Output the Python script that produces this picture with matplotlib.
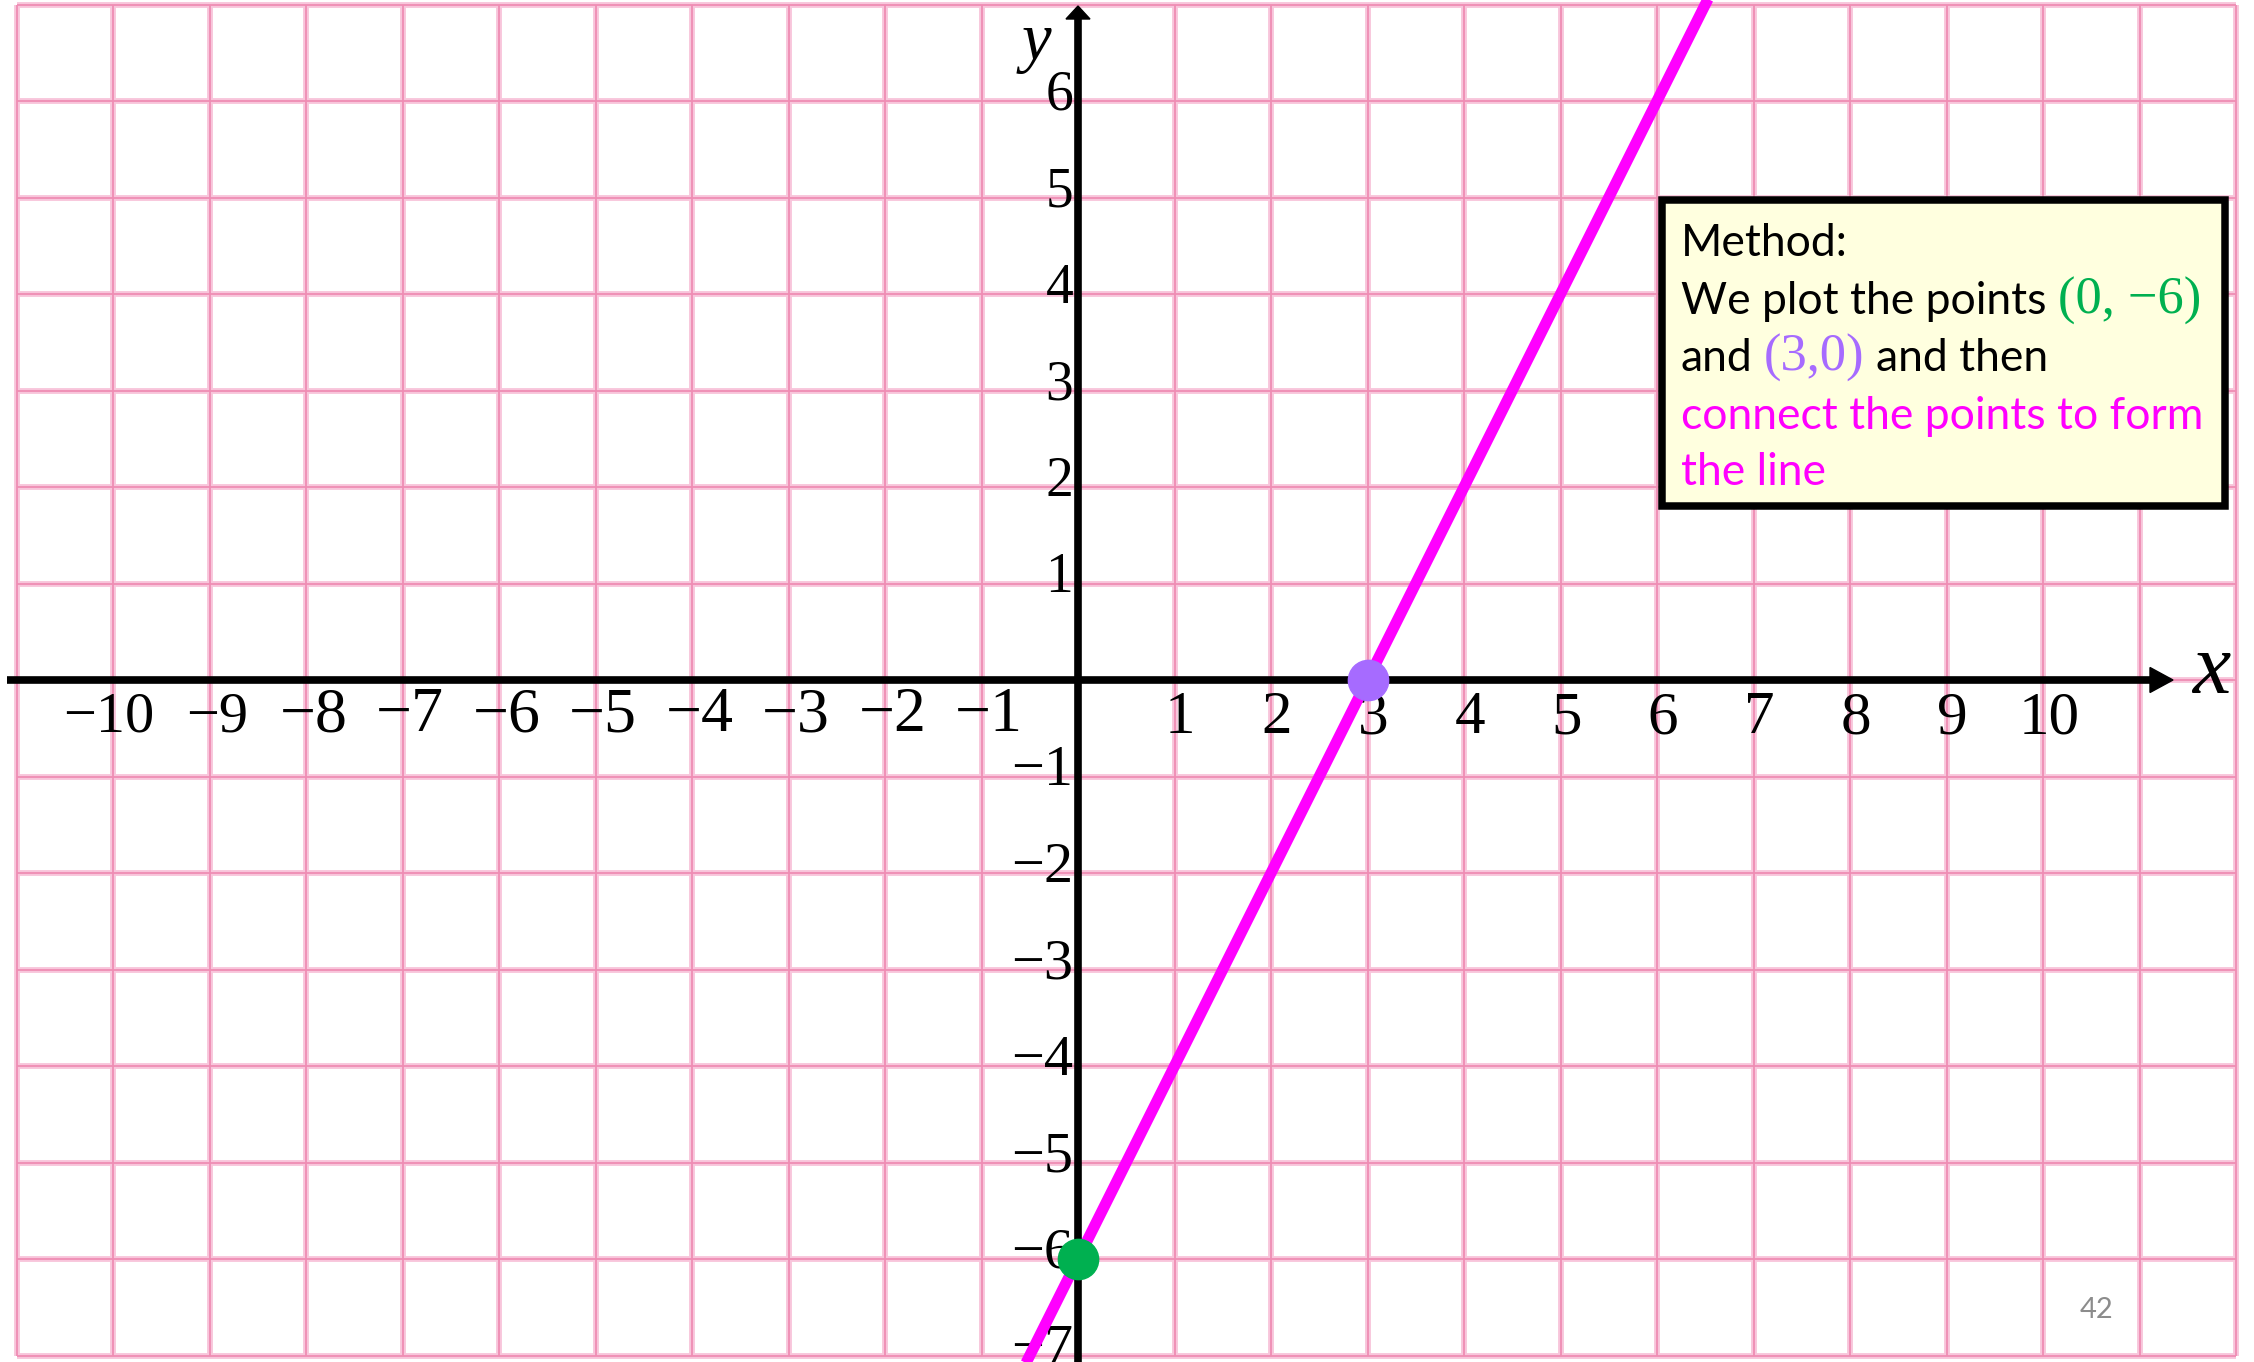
import matplotlib
matplotlib.use("Agg")
import matplotlib.pyplot as plt
from matplotlib.patches import Polygon, Rectangle

# ---------------- data ----------------
x_tick_values = [-10, -9, -8, -7, -6, -5, -4, -3, -2, -1, 1, 2, 3, 4, 5, 6, 7, 8, 9, 10]
y_tick_values = [6, 5, 4, 3, 2, 1, -1, -2, -3, -4, -5, -6, -7]
grid_x = list(range(-11, 13))
grid_y = list(range(-7, 8))
line_x = [-0.62, 6.62]
line_y = [-7.24, 7.24]
green_point = (0, -6)
purple_point = (3, 0)

box_lines = [
    [("Method:", "black", "sans")],
    [("We plot the points", "black", "sans"), ("(0, \u22126)", "#00b050", "serif")],
    [("and", "black", "sans"), ("(3,0)", "#a66bff", "serif"), ("and then", "black", "sans")],
    [("connect the points to form", "#ff00ff", "sans")],
    [("the line", "#ff00ff", "sans")],
]
page_number = "42"

# ---------------- layout ----------------
W, H, DPI = 2254, 1362, 100
PX = 96.5            # pixels per data unit
OX, OY = 1078, 680   # pixel position of the origin

fig = plt.figure(figsize=(W / DPI, H / DPI), dpi=DPI)
ax = fig.add_axes([0, 0, 1, 1])
ax.set_xlim(-OX / PX, (W - OX) / PX)
ax.set_ylim(-(H - OY) / PX, OY / PX)
ax.axis("off")

SERIF = ["Liberation Serif", "DejaVu Serif"]
SANS = ["Lato", "DejaVu Sans"]

# grid
halo, core = "#f8c5db", "#ef8db4"
for gx in grid_x:
    ax.plot([gx, gx], [grid_y[0], grid_y[-1]], color=halo, lw=4.2, solid_capstyle="butt", zorder=1)
    ax.plot([gx, gx], [grid_y[0], grid_y[-1]], color=core, lw=1.3, solid_capstyle="butt", zorder=1.1)
for gy in grid_y:
    ax.plot([grid_x[0], grid_x[-1]], [gy, gy], color=halo, lw=4.2, solid_capstyle="butt", zorder=1)
    ax.plot([grid_x[0], grid_x[-1]], [gy, gy], color=core, lw=1.3, solid_capstyle="butt", zorder=1.1)

# tick labels
for v in x_tick_values:
    lab = str(v).replace("-", "\u2212")
    if v < 0:
        off = -0.04 if v <= -10 else 0.08
        fs = 42 if v <= -9 else 46
        ax.text(v + off, -0.53, lab, ha="center", va="baseline", fontsize=fs, family=SERIF, zorder=3)
    else:
        ax.text(v + 0.06, -0.55, lab, ha="center", va="baseline", fontsize=44, family=SERIF, zorder=3)
for v in y_tick_values:
    lab = str(v).replace("-", "\u2212")
    fs = 40 if v > 0 else 42
    ax.text(-0.05, v - 0.09, lab, ha="right", va="baseline", fontsize=fs, family=SERIF, zorder=3)

# axes with arrows
x_start, x_base, x_tip = (7 - OX) / PX, (2150 - OX) / PX, (2173 - OX) / PX
ax.plot([x_start, x_base], [0, 0], color="black", lw=5.5, solid_capstyle="butt", zorder=4)
ax.add_patch(Polygon([[x_base, 12.5 / PX], [x_tip, 0], [x_base, -12.5 / PX]], closed=True,
                     color="black", zorder=4))
y_base, y_tip = (OY - 19) / PX, (OY - 6) / PX
ax.plot([0, 0], [-(H - OY) / PX, y_base], color="black", lw=5.5, solid_capstyle="butt", zorder=4)
ax.add_patch(Polygon([[-12 / PX, y_base], [0, y_tip], [12 / PX, y_base]], closed=True,
                     color="black", zorder=4))

ax.text((2211 - OX) / PX, (OY - 672) / PX, "x", fontsize=62, style="italic", family=SERIF,
        ha="center", va="center", zorder=4)
ax.text((1036 - OX) / PX, (OY - 44) / PX, "y", fontsize=48, style="italic", family=SERIF,
        ha="center", va="center", zorder=4)

# line and points
ax.plot(line_x, line_y, color="#ff00ff", lw=8, solid_capstyle="butt", zorder=5)
ax.plot([purple_point[0]], [purple_point[1]], "o", color="#a66bff", ms=29, zorder=6)
ax.plot([green_point[0]], [green_point[1]], "o", color="#00b050", ms=29, zorder=6)

# page number
fig.text(2097 / W, 1 - 1310 / H, page_number, ha="center", va="center", color="#8c8c8c",
         fontsize=21, family=SANS)

# method box
bx0, by0, bx1, by1 = 1662, 200, 2225, 506
fig.add_artist(Rectangle((bx0 / W, 1 - by1 / H), (bx1 - bx0) / W, (by1 - by0) / H,
                         transform=fig.transFigure, facecolor="#ffffdf", edgecolor="black",
                         lw=5.4, zorder=10))

fig.canvas.draw()
r = fig.canvas.get_renderer()

# size text so the longest line matches the reference width
probe = fig.text(0, 0, "connect the points to form", fontsize=30, family=SANS)
pw = probe.get_window_extent(r).width
probe.remove()
fs_box = 30 * 522 / pw

probe = fig.text(0, 0, "a a", fontsize=fs_box, family=SANS)
w1 = probe.get_window_extent(r).width
probe.set_text("aa")
w2 = probe.get_window_extent(r).width
probe.remove()
space = w1 - w2

baselines = [256, 314, 371, 429, 485]
for segs, yb in zip(box_lines, baselines):
    x = 1681
    for i, (txt, col, fam) in enumerate(segs):
        if i > 0:
            x += space
        famlist = SANS if fam == "sans" else SERIF
        size = fs_box if fam == "sans" else fs_box * 1.18
        t = fig.text(x / W, 1 - yb / H, txt, color=col, fontsize=size,
                     family=famlist, ha="left", va="baseline", zorder=11)
        x = t.get_window_extent(r).x1

fig.savefig("out.png", dpi=DPI)
